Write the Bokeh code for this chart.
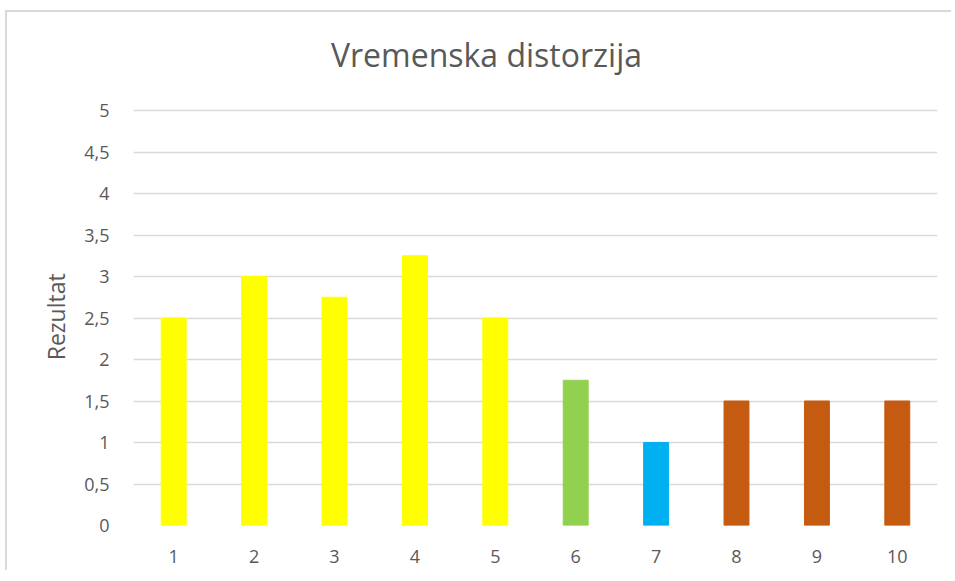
from bokeh.plotting import figure
from bokeh.models import ColumnDataSource, FixedTicker, Range1d, Label
from bokeh.embed import file_html
from bokeh.resources import INLINE

categories = [1, 2, 3, 4, 5, 6, 7, 8, 9, 10]
values = [2.5, 3.0, 2.75, 3.25, 2.5, 1.75, 1.0, 1.5, 1.5, 1.5]
colors = ["#FFFF00", "#FFFF00", "#FFFF00", "#FFFF00", "#FFFF00",
          "#92D050", "#00B0F0", "#C55A11", "#C55A11", "#C55A11"]
y_ticks = [0, 0.5, 1, 1.5, 2, 2.5, 3, 3.5, 4, 4.5, 5]
y_tick_labels = {t: ("%g" % t).replace(".", ",") for t in y_ticks}
title_text = "Vremenska distorzija"
y_label_text = "Rezultat"

FONT = "Open Sans"
GREY = "#595959"

source = ColumnDataSource(dict(x=categories, top=values, color=colors))

# the frame extends above the value axis (max 5) to hold the chart title
p = figure(width=946, height=560, output_backend="svg", toolbar_location=None,
           x_range=Range1d(0.5, 10.5), y_range=Range1d(0, 6.181),
           min_border_left=126, min_border_right=16, min_border_top=0,
           min_border_bottom=47)

p.vbar(x="x", top="top", width=0.31, color="color", source=source)

title = Label(x=4.89, y=5.675, text=title_text, text_align="center",
              text_baseline="middle", text_font=FONT, text_font_size="32px",
              text_color=GREY)
p.add_layout(title)

p.outline_line_color = None
p.background_fill_color = "white"
p.border_fill_color = "white"

p.xgrid.grid_line_color = None
p.ygrid.grid_line_color = "#d9d9d9"
p.ygrid.grid_line_width = 1.5

p.xaxis.ticker = FixedTicker(ticks=categories)
p.yaxis.ticker = FixedTicker(ticks=y_ticks)
p.yaxis.major_label_overrides = y_tick_labels

for ax in (p.xaxis[0], p.yaxis[0]):
    ax.axis_line_color = None
    ax.major_tick_line_color = None
    ax.minor_tick_line_color = None
    ax.major_label_text_font = FONT
    ax.major_label_text_font_size = "18px"
    ax.major_label_text_color = GREY

p.xaxis.major_label_standoff = 18
p.yaxis.major_label_standoff = 18
# trailing no-break spaces centre the visible label on the 0..5 value span
p.yaxis.axis_label = y_label_text + "\u00a0" * 16
p.yaxis.axis_label_text_font = FONT
p.yaxis.axis_label_text_font_size = "23px"
p.yaxis.axis_label_text_font_style = "normal"
p.yaxis.axis_label_text_color = GREY
p.yaxis.axis_label_standoff = 9

p.styles = {"border-left": "2px solid #d9d9d9", "border-top": "2px solid #d9d9d9",
            "margin-left": "5px", "margin-top": "10px"}

open("out.html", "w").write(file_html(p, INLINE))
